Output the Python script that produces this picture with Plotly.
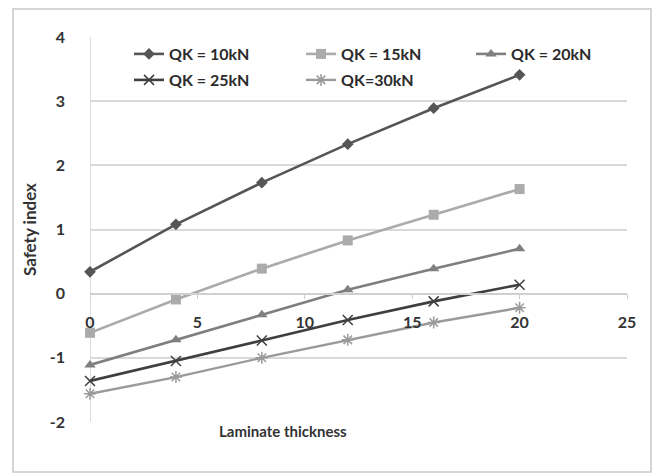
import plotly.graph_objects as go

# Laminate thickness values (x) and safety index per load case
thickness = [0, 4, 8, 12, 16, 20]
qk10 = [0.34, 1.08, 1.73, 2.33, 2.89, 3.41]
qk15 = [-0.61, -0.09, 0.39, 0.83, 1.23, 1.63]
qk20 = [-1.11, -0.72, -0.33, 0.06, 0.39, 0.70]
qk25 = [-1.36, -1.05, -0.73, -0.41, -0.12, 0.14]
qk30 = [-1.56, -1.30, -1.00, -0.72, -0.45, -0.22]

names = ["QK = 10kN", "QK = 15kN", "QK = 20kN", "QK = 25kN", "QK=30kN"]
x_ticks = [0, 5, 10, 15, 20, 25]
y_ticks = [-2, -1, 0, 1, 2, 3, 4]

FONT = "Lato"
W, H = 655, 476
L, R, T, B = 90, 28, 37, 54

styles = [
    dict(color="#555555", symbol="diamond", size=9, lw=2.6),
    dict(color="#ababab", symbol="square", size=10, lw=2.6),
    dict(color="#7f7f7f", symbol="triangle-up", size=10, lw=2.6),
    dict(color="#3f3f3f", symbol="x-thin-open", size=10, lw=2.6),
    dict(color="#9a9a9a", symbol="asterisk-open", size=10, lw=2.4),
]

plot_h = H - T - B
plot_w = W - L - R


def px_x(p):
    return (p - L) / plot_w


def px_y(p):
    return 1 - (p - T) / plot_h


# one legend box per entry: three columns on the first row, two on the second
legend_ids = ["legend", "legend2", "legend3", "legend4", "legend5"]
legend_pos = [(129, 54), (301, 54), (471, 54), (129, 80), (301, 80)]

fig = go.Figure()
for name, vals, st, lid in zip(names, [qk10, qk15, qk20, qk25, qk30], styles, legend_ids):
    open_sym = st["symbol"].endswith("open")
    fig.add_trace(go.Scatter(
        x=thickness, y=vals, name=name, mode="lines+markers",
        line=dict(color=st["color"], width=st["lw"]),
        marker=dict(symbol=st["symbol"], size=st["size"], color=st["color"],
                    line=dict(color=st["color"], width=1.5 if open_sym else 0)),
        legend=lid, cliponaxis=False, showlegend=True,
    ))

legends = {}
for lid, (lx, ly) in zip(legend_ids, legend_pos):
    legends[lid] = dict(
        x=px_x(lx), y=px_y(ly), xanchor="left", yanchor="middle",
        font=dict(family=FONT, size=16, color="#2b2b2b", weight="bold"),
        bgcolor="rgba(255,255,255,0)", itemsizing="trace", visible=True,
    )

fig.update_layout(
    width=W, height=H,
    margin=dict(l=L, r=R, t=T, b=B),
    paper_bgcolor="white", plot_bgcolor="white",
    showlegend=True,
    font=dict(family=FONT, size=14, color="#333333"),
    xaxis=dict(
        range=[0, 25], tickvals=x_ticks, ticktext=[str(v) for v in x_ticks],
        anchor="free", position=2 / 6,
        showgrid=False, zeroline=False,
        showline=True, linecolor="#d0d0d0", linewidth=1.5,
        ticks="outside", ticklen=5, tickcolor="#d0d0d0",
        ticklabelstandoff=9,
        tickfont=dict(family=FONT, size=16, color="#333333", weight="bold"),
    ),
    yaxis=dict(
        range=[-2, 4], tickvals=y_ticks, ticktext=[str(v) for v in y_ticks],
        showgrid=True, gridcolor="#d9d9d9", gridwidth=1.5,
        zeroline=False, showline=False,
        ticks="", ticklabelstandoff=24,
        tickfont=dict(family=FONT, size=16, color="#333333", weight="bold"),
        title=dict(text="Safety index", standoff=8,
                   font=dict(family=FONT, size=17, color="#333333", weight="bold")),
    ),
    **legends,
)

# y axis line drawn at x = 0
fig.add_shape(type="line", xref="x", yref="y", x0=0, x1=0, y0=-2, y1=4,
              line=dict(color="#d0d0d0", width=1.5), layer="below")

# x axis title under the plot
fig.add_annotation(text="Laminate thickness", xref="paper", yref="paper",
                   x=px_x(283), y=px_y(442), showarrow=False,
                   font=dict(family=FONT, size=15, color="#333333", weight="bold"))

# chart area border
fig.add_shape(type="rect", xref="paper", yref="paper",
              x0=px_x(13), x1=px_x(651), y0=px_y(472), y1=px_y(9),
              line=dict(color="#c8c8c8", width=1.5), fillcolor="rgba(0,0,0,0)")

fig.write_html("out.html")
